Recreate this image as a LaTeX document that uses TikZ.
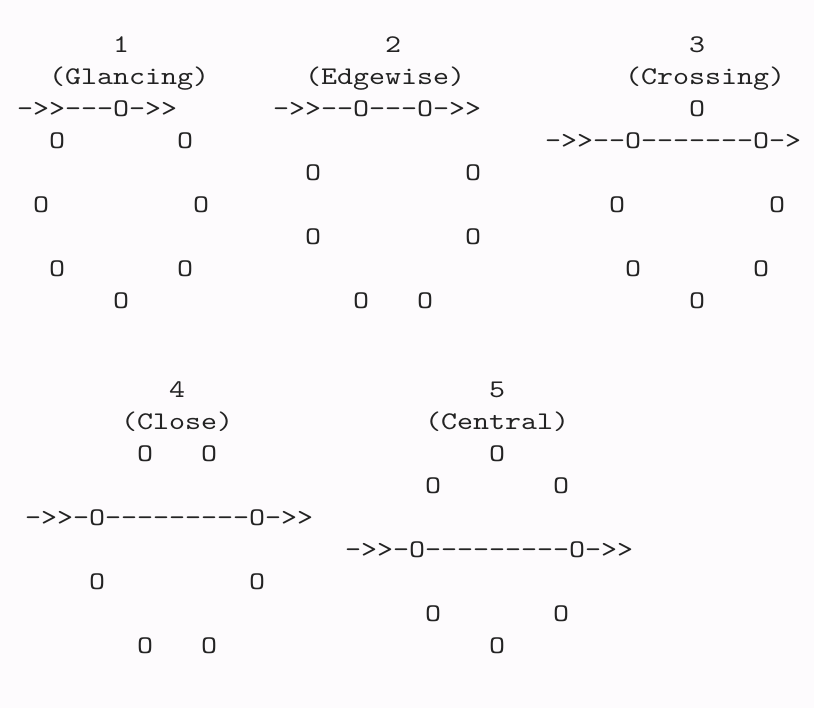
\documentclass[tikz,border=0pt]{standalone}
\usepackage{fontspec}
\newfontfamily\asciifont{lmmono10-regular}[Extension=.otf,Ligatures=TeXOff,FakeStretch=1.2]
\definecolor{paper}{RGB}{253,251,253}
\definecolor{ink}{RGB}{35,35,35}

\begin{document}
\begin{tikzpicture}[x=16pt,y=-32pt]
    \tikzstyle{chars}=[font=\fontsize{25.4}{32}\asciifont\selectfont,
      text=ink,inner sep=0pt,anchor=base west]

    \fill[paper] (0pt,0pt) rectangle (814pt,-708pt);
    \useasboundingbox (0pt,0pt) rectangle (814pt,-708pt);

    % upper row: columns and lines of the text grid
    \begin{scope}[shift={(17pt,-52.5pt)}]
      % 1
      \node[chars] (num1)  at (6,0)  {1};
      \node[chars] (name1) at (2,1)  {(Glancing)};
      \node[chars] (path1) at (0,2)  {->>---O->>};
      \node[chars] (g1a)   at (2,3)  {O};
      \node[chars] (g1b)   at (10,3) {O};
      \node[chars] (g1c)   at (1,5)  {O};
      \node[chars] (g1d)   at (11,5) {O};
      \node[chars] (g1e)   at (2,7)  {O};
      \node[chars] (g1f)   at (10,7) {O};
      \node[chars] (g1g)   at (6,8)  {O};
      % 2
      \node[chars] (num2)  at (23,0) {2};
      \node[chars] (name2) at (18,1) {(Edgewise)};
      \node[chars] (path2) at (16,2) {->>--O---O->>};
      \node[chars] (g2a)   at (18,4) {O};
      \node[chars] (g2b)   at (28,4) {O};
      \node[chars] (g2c)   at (18,6) {O};
      \node[chars] (g2d)   at (28,6) {O};
      \node[chars] (g2e)   at (21,8) {O};
      \node[chars] (g2f)   at (25,8) {O};
      % 3
      \node[chars] (num3)  at (42,0) {3};
      \node[chars] (name3) at (38,1) {(Crossing)};
      \node[chars] (g3a)   at (42,2) {O};
      \node[chars] (path3) at (33,3) {->>--O-------O->};
      \node[chars] (g3b)   at (37,5) {O};
      \node[chars] (g3c)   at (47,5) {O};
      \node[chars] (g3d)   at (38,7) {O};
      \node[chars] (g3e)   at (46,7) {O};
      \node[chars] (g3f)   at (42,8) {O};
    \end{scope}

    % lower row
    \begin{scope}[shift={(25pt,-397.5pt)}]
      % 4
      \node[chars] (num4)  at (9,0)  {4};
      \node[chars] (name4) at (6,1)  {(Close)};
      \node[chars] (g4a)   at (7,2)  {O};
      \node[chars] (g4b)   at (11,2) {O};
      \node[chars] (path4) at (0,4)  {->>-O---------O->>};
      \node[chars] (g4c)   at (4,6)  {O};
      \node[chars] (g4d)   at (14,6) {O};
      \node[chars] (g4e)   at (7,8)  {O};
      \node[chars] (g4f)   at (11,8) {O};
      % 5
      \node[chars] (num5)  at (29,0) {5};
      \node[chars] (name5) at (25,1) {(Central)};
      \node[chars] (g5a)   at (29,2) {O};
      \node[chars] (g5b)   at (25,3) {O};
      \node[chars] (g5c)   at (33,3) {O};
      \node[chars] (path5) at (20,5) {->>-O---------O->>};
      \node[chars] (g5d)   at (25,7) {O};
      \node[chars] (g5e)   at (33,7) {O};
      \node[chars] (g5f)   at (29,8) {O};
    \end{scope}
  \end{tikzpicture}
\end{document}
